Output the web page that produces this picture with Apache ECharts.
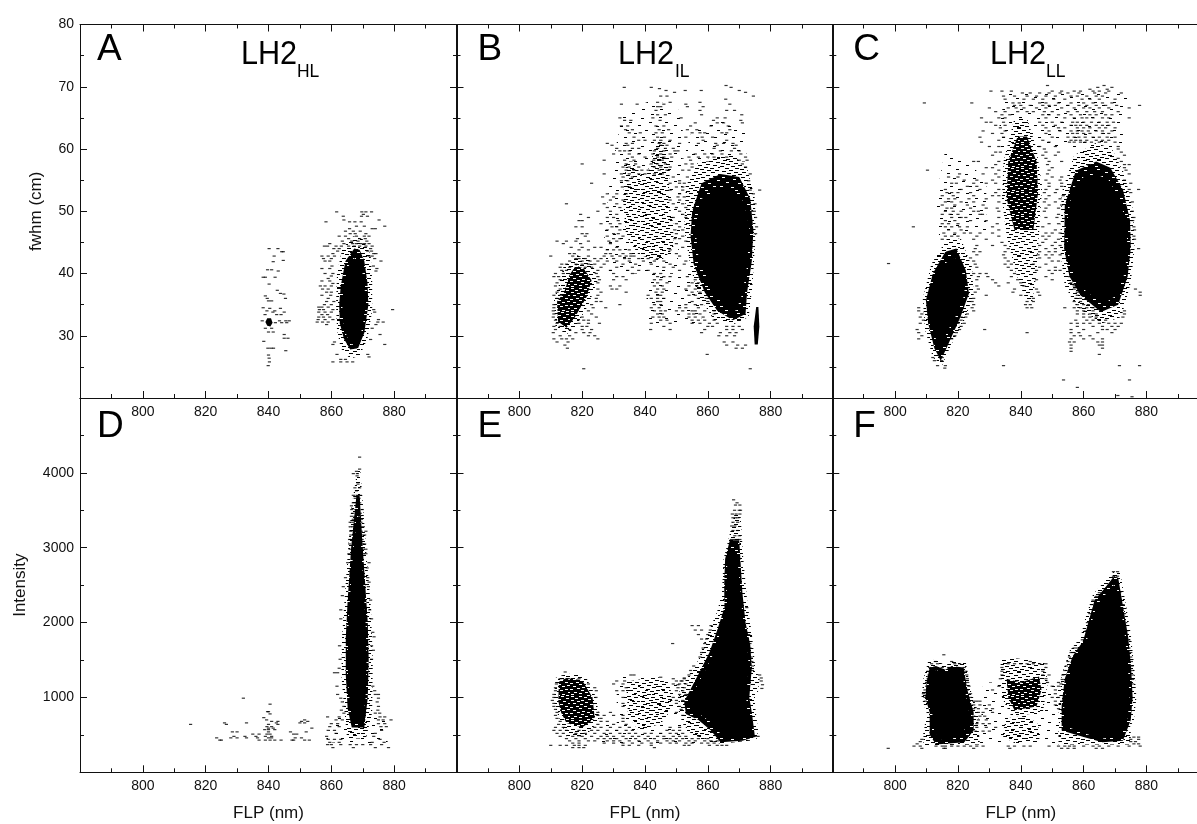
<!DOCTYPE html>
<html>
<head>
<meta charset="utf-8">
<title>LH2 scatter panels</title>
<script src="https://cdn.jsdelivr.net/npm/echarts@6/dist/echarts.min.js"></script>
<style>
html,body{margin:0;padding:0;background:#fff;overflow:hidden}
/* wider than the window: panel C runs off the right edge */
#chart{width:1225px;height:824px}
</style>
</head>
<body>
<div id="chart"></div>
<script>
const xTickLabels = [800, 820, 840, 860, 880];
const fwhmTickLabels = [30, 40, 50, 60, 70, 80];
const intensityTickLabels = [1000, 2000, 3000, 4000];

// solid black areas, [nm, value] outlines
const coreA = [[867.3,42.5],[865.2,41],[864,38],[863.5,35],[863.8,32],[865,29.8],[866.5,28.6],[868.5,29],[870,31.5],[870.8,35],[870.6,38],[869.6,41]];
const spotA = [[839,32.2],[839.6,31.6],[840.6,31.5],[841.3,32.1],[840.8,32.8],[839.6,32.8]];
const coreB = [[863.7,53.5],[858,52],[856,47.5],[857,42.7],[860.8,37.9],[865,35],[869,34],[871,36.8],[872.6,41.6],[873.2,47.5],[871.5,51.5],[868,53.5]];
const spikeB = [[875.4,34.6],[874.6,31.5],[874.9,28.6],[875.9,28.6],[876.4,31.5],[876.1,34.6]];
const coreC = [[860,55.5],[856.4,53.5],[855,49],[855,44],[856.5,40.5],[860,37.5],[866,35],[870.5,36.5],[873,40],[874,44],[873.5,48],[871.5,52],[868,55],[864,56]];
const blobC = [[815.9,41.6],[812.6,39.5],[810.8,35.7],[811.6,32.5],[813.3,28.8],[814.9,27.8],[816.3,30.4],[819.8,33.6],[822.2,36.8],[821.4,40],[819.1,42.7]];
const coreD = [[868,3350],[866.9,2900],[865.9,2300],[865.3,1800],[865.3,1300],[865.9,900],[867,680],[870,680],[870.9,1000],[871.2,1500],[870.9,2000],[870.2,2500],[869.5,3000],[868.8,3350]];
const coreE = [[867.3,2900],[866.2,2800],[866,2500],[866.2,2200],[864.2,1900],[862,1600],[859,1350],[856.5,1150],[854,950],[855,800],[858,760],[862,640],[865,450],[870,470],[873.5,520],[872.6,800],[872.2,1000],[873,1400],[872.6,1700],[871.2,2000],[870.4,2400],[869.3,2900]];
const coreF = [[869.5,2500],[867,2380],[864.2,2230],[862.2,1950],[860.7,1700],[857.2,1500],[854.8,1200],[853.8,900],[854.2,620],[860,520],[866,450],[871.5,480],[874,700],[874.6,1000],[874.1,1400],[873.2,1800],[871.8,2200],[870.4,2480]];
const blobF = [[811.8,1340],[813,1370],[816,1320],[818,1360],[821.3,1340],[822.2,1100],[823.6,800],[823.2,620],[820,480],[815.5,400],[812.5,520],[811.8,800],[810.4,1000],[810.8,1200]];

// almost solid areas with small white flecks
const denseA = [[867.3,44],[864.5,42],[863,38],[862.5,35],[862.7,32],[864,29.5],[866,27.8],[868.5,28],[870.5,30.5],[871.8,35],[871.5,38.5],[870.5,42],[869,43.8]];
const denseB = [[864,56],[858,54.5],[855,50],[854.5,46],[855.5,41.5],[859,37],[863,34],[868,32.5],[872,33.5],[872.5,37],[874,42],[874.5,47],[873.5,52],[870,55.5]];
const denseC = [[864,58],[857.5,56.5],[854,51],[853.8,44],[855.5,39.5],[859,36.5],[865.5,33.8],[871,35],[874,39.5],[875,44],[874.8,48.5],[872.5,53.5],[868.5,57]];
const denseC2 = [[816,43.5],[812,40],[809.8,35.7],[810.5,32],[812.5,28],[814.5,26],[816.8,28.5],[820.8,33],[823.5,36.8],[822.5,40.5],[819.5,44]];
const denseD = [[868,3700],[866.3,3000],[865.2,2300],[864.6,1800],[864.6,1300],[865.2,850],[866.5,600],[870.5,600],[871.6,1000],[871.9,1500],[871.6,2000],[870.8,2500],[870,3000],[869,3700]];
const denseE = [[867,3100],[865.5,2850],[865.2,2500],[865.3,2200],[863,1900],[860.5,1600],[857.5,1350],[855,1150],[852.5,950],[853,780],[857,700],[861,560],[864,400],[871,420],[875,470],[874,800],[873.2,1000],[874,1400],[873.5,1700],[872,2000],[871,2400],[870,3100]];
const denseF = [[869.7,2620],[866.5,2450],[863.5,2300],[861.5,2000],[859.8,1750],[856.5,1550],[854,1250],[853,900],[853,560],[860,470],[866,400],[872.5,420],[875,700],[875.6,1000],[875.1,1400],[874.2,1800],[872.6,2200],[871,2600]];
const denseF2 = [[811,1400],[813,1420],[816,1370],[818,1420],[821.8,1400],[823,1100],[825,800],[825,560],[822,400],[813,370],[811,500],[811,800],[809.6,1000],[810,1200]];

// dark but clearly flecked areas
const blobB = [[812,35.5],[812.3,32.3],[815,31.3],[817.5,32.8],[821.5,36.3],[823,38.9],[820.5,40.8],[818,41.3],[816,39.8],[814.3,37]];
const heavyC = [[839,62],[836,58],[835.5,52],[838,47],[844,47],[845.5,53],[845,58],[842,62]];
const blobE = [[812.6,1210],[815,1260],[820,1230],[823.3,1000],[824,720],[820,600],[815,660],[813.3,800],[812.4,950]];
const upperF = [[835.5,1250],[840,1200],[845.8,1280],[846.6,1100],[845,880],[838,830],[836,1000]];

// speckled areas, about a quarter of the ink
const midA = [[867,46],[863.5,44],[861.8,40],[861.5,35],[861.8,31],[863,28],[866,26.3],[869,26.8],[871.5,29.5],[873,34],[873,39],[872.5,43],[870,45.5]];
const midB = [[864,59],[857,58],[853,54],[852.5,47],[854.5,41],[857,36.5],[862,32.5],[868,31.8],[873,33],[874.2,38],[875.2,46],[875,52],[872.5,57],[868,59]];
const midB2 = [[834,58],[833,52],[834,46],[838,43],[845,42],[849,44],[849,48],[847.5,52],[848,58],[845,62],[843,60],[840,55],[836,58]];
const midB3 = [[811,36],[811.5,31.5],[815,30.2],[818,31.5],[822,35],[825,39],[823,42],[818,43],[814,41],[812.5,38]];
const midC = [[864,61],[857,59],[853,53],[852.5,44],[854,38],[858,34.5],[866,32],[872,33],[875,38.5],[876.2,44],[875.8,50],[873,56],[869,60]];
const midC2 = [[838,65],[834.5,58],[834,52],[835.5,46],[838.5,40],[841,36.5],[843.5,35],[845,40],[846,48],[846.8,54],[845,60],[842,65]];
const midC3 = [[817,46],[811.5,41.5],[808.8,36],[809.5,31],[812,26.5],[815,25.3],[817.8,28.5],[822,32.5],[825,36.5],[824.5,41],[821,45.5]];
const midD = [[868.3,4050],[866.3,3500],[865.2,2900],[864.2,2300],[863.4,1800],[863.2,1300],[864,900],[865,450],[871,450],[873,800],[873.2,1500],[872.6,2200],[871.2,2900],[870.2,3500],[869.2,4050]];
const midE = [[868.5,3450],[866.5,3100],[865,2850],[864.5,2400],[863,2150],[859,1750],[857,1500],[851,1100],[850.5,850],[852,650],[855,500],[864,380],[875.5,430],[876,560],[875,900],[875,1450],[874,1850],[872.5,2300],[871.2,2900],[870.4,3450]];
const midE2 = [[834,1210],[844,1280],[848,1150],[849,870],[845,650],[838,560],[834.6,760]];
const midE3 = [[811.5,1260],[815,1320],[821,1290],[824.5,1000],[825.5,700],[821,480],[815,480],[812,800],[811,950]];
const sideE = [[873.4,1000],[876,1080],[876.6,1290],[874.2,1360],[873,1200]];
const midF = [[852,560],[852,370],[875,370],[875,550]];
const midF2 = [[809,360],[809,560],[826.5,600],[827,370]];
const midF3 = [[870,2700],[866,2520],[863,2380],[860.5,2050],[859,1800],[855.5,1620],[853,1300],[852,900],[852.2,540],[860,450],[872,400],[876,700],[876.8,1000],[876,1450],[875,1850],[873.4,2250],[871.6,2680]];
const midF4 = [[810.5,1480],[813,1510],[816,1420],[818.5,1510],[822.5,1470],[824,1100],[826.5,800],[826.5,500],[809,500],[810,800],[808.4,1000],[809,1250]];
const midF5 = [[833.5,1520],[839,1520],[847.5,1470],[848.6,1200],[847,800],[837,750],[834,1000]];
const lowerF = [[835.2,720],[842,760],[845.6,640],[846,400],[838,390],[834.2,480]];

// thin scatter
const thinB = [[833,66],[829,56],[827,46],[828,40],[850,40],[852,50],[852,66],[843,68]];
const thinB2 = [[855,63],[852,58],[872,58],[873,63],[864,65]];
const thinB3 = [[841,40],[840,32],[858,32],[857,40]];
const thinC = [[835,69],[832,60],[872,60],[874,69]];
const thinC2 = [[816,60],[813,52],[814,46],[822,46],[829,47],[829,54],[824,58]];
const thinD = [[861,740],[858,400],[878,380],[877,750]];
const thinE = [[826,650],[826,360],[862,370],[860,800],[850,660]];
const thinE2 = [[831,1300],[831,600],[852,800],[852,1200]];
const thinF = [[828,1200],[827,360],[853,360],[853,1200],[848,1200],[846,800],[836,800],[834,1200]];

// single dashes, [value, [nm, nm, ...]] per row
const dashesA = [
[49.9,[861.7,869.7,871,872.8]],[49.5,[870.2]],[49.2,[863.8,869.6,871.5]],[48.6,[864,875.2]],[48.3,[858.3,865.8,867.5,869.5]],[47.6,[868,870.5,877]],[47.2,[865.8,873,874]],[46.8,[864.5,867,869.2]],[46.4,[866,867.6,871]],[46,[862.5,864.5,868,870.5,872]],[45.6,[865.5,869,870.8]],[45.2,[863.5,866.5,868.5,871.3]],
[44.8,[859.5,864,866.8,868,869.5,870.6,872]],[44.4,[857.8,858.8,861.5,863.2,865.5,867.3,869,871,873]],[44,[860.8,862.5,872.5]],[43.6,[862,871.6,872.8]],[43.2,[860.5,873.5,874.2]],[42.8,[857,859,861,872,873]],
[42.4,[857.5,860,873.8]],[42,[858,859.5,875.8]],[41.2,[860.2,873.4]],[40.8,[857,859.5,874.5]],[40.4,[874.2]],[40,[858,860.5]],[39.6,[860]],[39.2,[859]],[38.8,[857,859.5]],[38.4,[860.5]],
[38,[856.5,858,860]],[37.5,[857.2,859]],[37,[858.5,860]],[36.5,[857,859.8]],[36,[859]],[35.5,[858.5,860.8]],[35,[857.8,860]],[34.6,[856,857,859]],[34.2,[856.2,857.5,860.5,873.5,879.5]],[33.8,[856,858,860,873.8]],[33.4,[857,858.8]],
[33,[856,857.5,859.5]],[32.6,[855.8,858,860.5,875]],[32.2,[855.5,857.2,859,874.8,876.5]],[31.8,[858.5,874.2]],[31.2,[873]],[30.2,[875.5]],[29.4,[872.5]],[29,[861]],
[28.6,[860.5,877]],[27,[861.8,871.6]],[26.6,[872]],[26.2,[863,864.5]],[25.8,[860.5,863,865,866.8]],
[44,[840.2,843]],[43.5,[844.2,844.7]],[42.8,[841.8]],[42.1,[844.7]],[41.9,[841.5]],[40.6,[839.7,841]],[40.4,[843.1]],[39.4,[838.3,839,842.1]],[38.3,[840.2]],[37.3,[842.8]],[36.8,[843.8]],[36.7,[844.9]],[36.4,[839]],[36,[845.4,839.6]],[35.6,[840,841]],[34.5,[838.3]],[34.4,[840.4,843.8]],[34,[842,839.5]],[33.8,[841.4,845]],[33.4,[842.6,838.9,844]],[32.4,[838,843.5,845.5,846.6]],[32.1,[842.2,844.2,845.8]],[31.2,[839,841]],[30.6,[840,841.5]],[30.2,[845]],[29.6,[845,846.2]],[29.1,[838.5]],[28,[839.8,840.8,841.6]],[27.6,[845.5]],[26.9,[840]],[26.4,[840.2]],[25.8,[840.3]],[25.2,[839.9]]
];
const dashesB = [
[70.2,[865.8]],[69.9,[833.4,842,867.4]],[69.7,[844.6]],[69.4,[857.9,846.7,870,852.8]],[69.1,[849.4,872]],[68.5,[847,874.5,845]],[68,[865.7]],[67.5,[844,848,857.5]],[67.2,[832.5,837.5,846,853,867]],[66.8,[844,845,858.5,853.5]],[66.2,[843.5,866,857.5,868.5]],[65.5,[844,846.5,858,870.8]],[65,[832,842.5,851.5,863,865.5]],[64.6,[833.5,835.5,844.8,861.8,870.5]],[64.2,[856,863,865,871]],
[63.7,[832.5,834.5,843.5,846,854.5,861,866.5]],[63.1,[833.8,836,844.5,847.5,853.5,856.5,867]],[62.6,[835,838.5,843.5,845.5,855,857.5,859,864.5,866]],[61.9,[836.5,844,846.2,853,858.2,861.5]],[61.4,[838,840,843,845,848,858.5,866]],[60.9,[828,834,836,844.5,846,851,857,862.5,865,868]],[60.6,[829.5,834.5,845,847,863,869]],[60.1,[831,836,838,844,846.5,849,862,868.5]],
[59.7,[832,833.5,835,843,846,849.5,850.5,864,867.5,870]],[59.2,[830,835,838,842.5,845,848,856,859,861.5,864.5,870.5]],[58.7,[836,840,844,846,848.5,854,857,860,862,866,872]],[58.2,[827,833.5,836.5,842.8,845.5,854.5,870,872.5]],[57.6,[820,834,837,842,844,846.5,853,855,871]],[57.1,[833,835,838,843,845,848,855,872]],
[56.6,[834,836.5,839,841,844.5,847,852,854]],[56,[827,832.5,835,838,840,843,845.5,873.5]],[55.5,[833,836,849,853.5]],[54.9,[832.5,834.5,851,873]],[54.5,[823,848,851,852.5]],
[53.9,[832.8,835,850,852]],[53.4,[848,852,873.5,876.5]],[52.8,[828,831,834,851,874.5]],[52.3,[826.5,830,850.5,852.5]],[51.8,[829,833,848,851]],[51.2,[815,827,831,849,852,875]],[50.6,[828,832,850,853]],
[50,[825,829,851,874.8,874]],[49.5,[819.5,831,852]],[49,[822,828,830,849,853,875.2]],[48.5,[819,820,831.5]],[48,[826,829,832,850]],[47.5,[818,820,829.5,831,851,875.5]],[47,[828,832,849.5,852]],
[46.4,[820,821.5,830,831.5,850,875.2]],[46,[821,828,833,852]],[45.6,[818.5,830,832,849.5,851]],[45.2,[812,815,818,822,828.5,831,853]],[44.8,[814,819.5,829,850]],[44.2,[816.5,820,824,826,831,852]],
[43.8,[819,822,828,830,832,835,848]],[43.2,[816,817.5,827.5,829,833,835.5,850]],[42.8,[810,817,822,827,829.5,832,834,835.5,836.5,851]],[42.4,[818,819,821,824,826,830,833.5,835,838,841,844]],[42,[816,820,822.5,825,828,831,835,839.5,843,846,853]],[41.5,[813.5,815,818,820,822,824,827,833,837,842,848,852.5]],
[41,[813,816,821,823,826,831,836,846,849]],[40.5,[813.5,815,825,829,834.5,838,841,851]],[40,[811.5,814,824.5,830,836,843,845]],[39.5,[811,812.5,825,831,833,844,846,848,853.5]],[39,[813,825.5,830,834,843,845,856]],[38.5,[812,825,844,847,855,857]],[38,[811.5,829,832,843,845.5,854,856.5]],[37.5,[813,825,829.5,831,844,846,853,856]],
[37,[812,826,834,843.5,845.5,855,857.5]],[36.5,[811,813,825,841,844,845,854,856]],[36,[812,824.5,842,844,846,857,859.5]],[35.5,[824.5,826,844,845,855,860]],[35,[811,823,832,843,845,853,856,858]],[34.5,[811,823.5,827.5,842,844.5,851,853,857]],[34,[810.8,822,843,845,846.5,850,852,855,856,859,862]],
[33.5,[811,823,844,845.5,854,855.5,857.5,862]],[33,[810.8,820,824.5,842.5,844.5,846,854,856,858.5]],[32.5,[811.5,820.5,822,845,847,855,857,859,862]],[32,[812,819,822,825.5,842,848,855,857.5,860.5,863]],[31.5,[811,813,820,821.5,846,860,861.5,866,868,870]],[31,[811.5,816,820,823,841.8,848,859,866,868,871]],[30.5,[810.8,818,820.5,822.5,858,864,867,869]],
[30,[813,816,822,824,863.5,866,868.5]],[29.5,[811,813.5,815,817,825]],[29,[812,815.5,865.2,868]],[28.5,[814.5,866,869.5,872]],[28,[815.3,869,871]],[27,[859.8]],[24.7,[820.5,873.5]]
];
const dashesC = [
[70.2,[848.5,866.5]],[69.9,[869,864.5]],[69.6,[867.5,862]],[69.3,[830.5,834,837,850,853,857,859,863,865,868]],[69,[840.5,843,846,849,852.5,855,858.5,863.5,867,872]],[68.5,[834.5,838,842,845,848,851,856,858,861,864,866]],[68,[835,841,844,847,850.5,854,859.5,862,865,870]],[67.4,[809.3,824.4,837.5,839.5,846,848,852,856,860,863,866,869]],[67,[838,840,843,847,849,851,855,858.5,861,864,867,870.5,877.8]],
[66.6,[830,836,838.5,841,845,848,853,857,860,862,865,868,874.5]],[66,[832,835,839,842,844,847.5,850,855,858,861,863.5,866,871]],[65.5,[834,836.5,847,849,852,856,859,862,864,867,869]],[65,[827.5,833,835,848,854,857,859.5,861,863,866,868,874.5]],[64.3,[829,830.5,834.5,846,850,853,856.5,858,860,862.5,865,867.5,869.5]],[63.8,[832,835,847,851,856,857.5,859,861,864,866,868]],
[63.4,[833.5,848,852,854,858,860,862,865,867,870]],[62.9,[828,835,849,852.5,856,858,859.5,861.5,864,866,869]],[62.5,[831,834,848,856.5,858,860,862,866,868]],[61.9,[827,834.5,850,855,857,858.5,860.5,863,865,867.5,870]],[61.4,[833,847,856,857.5,859,861,864,866,868]],[61.1,[827.5,849,855.5,857,859,860.5,862.5,865,867,870]],
[60.4,[830,833,846,851,871]],[60,[847.5,871]],[59.5,[832,833.5,848,852,872]],[59,[831,847,851,873]],[58.5,[848,871]],[58,[825,826.5,833,849,853,872]],[57.5,[832,848.5,873,874.5]],[57,[829,831,850,873]],
[56.6,[810.3,833,849,873.5]],[56,[820.5,828,832,848.5,874.5]],[55.5,[817,820,833,850,853]],[55,[822,826,831,848,852.5,873]],[54.5,[818,819.5,825,829,832,849,853,875]],[54,[823,826,849,853]],[53.5,[816,821,827,833,848,851.5,874.5,877.5]],[53,[816.5,818,820,824,832,847.5,851,875]],
[52.5,[815,818.5,825,831,833,849,853.5]],[52,[817,819,823.5,829,848,852.5]],[51.5,[816,818,821,825,833,847.5,851,875.5]],[51,[815,819,823,828,849,853]],[50.5,[816.5,818,824,829,832.5,848,852]],[50,[816,818.5,821,825,826.5,833,847.5,875.5]],[49.5,[815,817.5,820,827,827.8,852]],[49,[818,821,822.5,833,848,851.5,876]],[48.5,[816,819,824,829,875.6]],[48,[815,817,820,832.5,849,852]],
[47.5,[805.8,816,818,820.5,823,831,847,876]],[47,[817,821,833,851,876.2]],[46.5,[815.5,819,822,824,827,831,848,850,852.5]],[46,[816,818,820,826,833,847,849,876]],[45.5,[815,825,829,848,852,876.2]],[45,[834,847,851]],[44.5,[826,831,835,846,850,852.5]],[44,[825.5,836,848,851,877.5]],
[43.5,[825,827,835,846,849,851]],[43,[826,834.5,845.5,848,850,852.5]],[42.5,[824,835,846,849]],[42,[825,836,850,852]],[41.5,[825.5,835,837,844,848]],[41,[826,836,846,851]],[40.5,[837,845,849,851,852.5]],[40,[825,827,829,838,850]],
[39.5,[826.5,829.5,837,848,855.5]],[39,[826,831,839,845,850]],[38.5,[832,836,840,856]],[38,[826,833,841,857]],[37.5,[826.5,838,845,857,876.5]],[37,[825.5,837.5,845.5,858,878]],[36.5,[829,840,846,858,878]],[36,[825,844,857.5,859]],
[35.5,[824.5,842,844,857,859]],[35,[825,841.5,843,858,860,861.5]],[34.5,[807.5,824.5,842,843.5,854,857,859,861,863]],[34,[807.5,825,858,860,863,873]],[33.5,[808.5,823,858,860,862,864,873]],[33,[808,821,822.5,860,862,864,872.5]],[32.5,[809,821,857.5,861,863,865,867]],[32,[808,820,822,856,858,860,862,865,868,870,872]],[31.5,[819,821,858,863,866,869,871]],
[31,[807,820.5,828.5,856,860,866,867.5,870]],[30.5,[807.5,819.5,842,856,858.5,864.5,869]],[30,[808.5,819,857,859,862]],[29.5,[807.5,818,856,860,863,866]],[29,[855.5,857,864.5,866]],[28.5,[856,865,866]],[28,[856,866]],[27.5,[856]],[27,[865]],[26.5,[812,815]],[26,[812.5,814.8]],[25.2,[813.5,816,834.5,871.4,877.8]],[24.8,[815.8]],[22.9,[853.6,874.6]],[21.7,[858]],[20.4,[870.9]],[20.2,[875.4]],[41.6,[797.9]]
];
const dashesD = [
[4210,[869]],[4050,[869]],[4020,[868]],[3990,[867,868.3]],[3960,[868.2]],[3850,[868.5]],[3800,[867.5,869]],[3760,[868]],[3700,[867,868.2,869.2]],[3660,[867.6,868.8]],[3600,[867,868,869]],[3560,[866.4,868.5]],[3510,[866.5,867.8,869.8]],[3460,[866.8,868,869.2]],[3420,[866.4,867.5,869]],[3380,[867,868.2,869.6]],[3340,[866,867,869.4]],[3280,[866,866.8,869.2,870.2]],[3220,[866.2,869.5,871]],[3170,[866.2,869.6,870.6]],[3110,[865.8,866.4,869.8]],[3050,[865.8,870,870.6]],[2980,[866,870.2,871]],[2920,[865.6,870.3,871]],[2800,[865.2,872]],[2730,[871.4]],
[2600,[864.5,871.6]],[2540,[872]],[2480,[863.8,871.8]],[2360,[863.5]],[2300,[872.5]],[2170,[863,872.2]],[2050,[863,872.8]],[1870,[873.2]],[1810,[873.6]],[1690,[862.6,872.8]],[1630,[873.4]],
[1510,[862.8,872.8]],[1390,[862.5]],[1330,[861,862]],[1150,[861.8,873.2]],[1090,[873.8]],[1040,[862,874,875]],[990,[863,875]],[940,[863.5,874.6]],[880,[864,875]],[830,[863.2,874.8]],[790,[864,874,875.4]],[740,[858.8,862.5,875.5,877]],[700,[861.5,863.5,875,876.5,879]],[650,[860,862,875,877]],[610,[859.5,862.5,875.8,877.5]],[560,[859,861,876]],[520,[861.5,874]],[480,[858.5,873.5]],[440,[859,861,863,875.5]],[400,[859.5,862.5,873,876.8]],[370,[858.8,860,863,866,868,870,872.5,876]],[330,[860.5,867,874,878.2]],
[990,[832]],[910,[840.5]],[810,[839.7,840]],[780,[840.5]],[730,[838.5]],[700,[839.4,851.5]],[680,[841,843,850.5,852.5]],[660,[826,833,842.5,850,851.5]],[640,[815.2,826.6,840,843]],[610,[839.5,841]],[590,[840,841.5,853.8]],[570,[838.8,840,842]],[540,[828.5,830,840,847,852]],[510,[835,837,839.5,840.5,848,849]],[480,[829,832.5,836,839,841]],[460,[823.5,828,830,833,836.5,840,841,848.5,850.5]],[430,[824.5,825,837,839,840.5,842,844,847.5,848,851.5,853]]
];
const dashesE = [
[3640,[868.2]],[3600,[869.3]],[3570,[870.2,868.8]],[3500,[868.5,870,870.4]],[3450,[867.8,869,870.2]],[3400,[868,868.8,869.6]],[3340,[868,869.5]],[3290,[867.6,868.6]],[3230,[868,869.4]],[3160,[868.6,870]],[3110,[867.5,868.5,869.4,870.2]],[2200,[872.4]],
[1960,[855,857,861]],[1900,[856,858,860.8]],[1840,[857,860,873]],[1780,[858,859.6]],[1720,[848.8,859,873.4]],[1660,[858.5,873.4]],[1600,[858,873.6]],[1540,[857.5,873.8]],[1480,[874]],[1420,[855.5,874.2]],[1360,[854.5,874.2]],[1300,[854,876.5]],[1260,[852.5,877]],[1220,[851.5,877]],[1170,[850.5,877.4]],[1120,[877.2]],
[1340,[814.6]],[1300,[835.5,836.5]],[1270,[845]],[1250,[813,815.5,819,849,852.5]],[1220,[831,833.5,850,851.8]],[1180,[811.8,822,830,833,849,851,853]],[1130,[811.5,824,834,850.5,852.5]],[1090,[811.5,824.5,831,833,850,852]],[1040,[811,851,853]],[1000,[811,824.4,833,849,851]],[960,[810.5,850,852]],[920,[811,833,850,853]],
[880,[811,833,851,853.5]],[840,[811.5,851.5]],[800,[812,825,829,850]],[760,[811.5,825,827,830,833,852]],[720,[812,826,833]],[680,[813,826,828,833]],[640,[812.5,825,830,834]],[600,[811.5,814,824,826,829,832,835,848,851]],
[560,[811,813,815,819,823,825,828,831,834,836,847,849,851]],[520,[812,814,818,821,824,827,829,832,835,837,840,842,845,848,850,852]],[480,[813,817,820,823,826,828,830,833,836,838,841,844,846,849,851,853,875,876]],[450,[815,818,821,825,827,829,831,834,837,840,843,846,848,850,852,855,857,860]],[420,[816,819,822,824,828,830,832,835,838,841,844,847,849,851,854,856,859,861,863]],[390,[817,819,827,830,833,836,839,842,845,848,850,853,855,858,860,862]],[360,[810,813,815,817.5,819,821,833,835,838,842,852.5,854,860.5,863,864.5,866]],[330,[817,819,820.5,843]]
];
const dashesF = [
[2680,[869.5,870.8]],[2620,[869.5,870.8]],[2400,[865,871.5]],[2350,[864,871.6]],[2300,[863,871.8]],[2240,[862.6,872.6]],[2120,[862,873]],[2000,[861.2,873.4]],[1890,[860.8,873.8]],[1770,[859.6,874.4]],[1660,[857,858,874.4]],[1600,[856,857,875]],[1540,[855.5,875]],[1480,[855,875.2]],[1420,[854.5,875.4]],[1360,[854,875.6]],[1300,[853.4,875.6]],[1240,[853.2,875.6]],[1180,[852.8,875.6]],
[1570,[815.5]],[1480,[812.8,818,843]],[1450,[811.6,813.5,819,820.5,836,838,840,842,844,846,848]],[1400,[811,815,817,822,834,848]],[1350,[810.5,822.5,834,847]],[1300,[810.8,822.8,834,847,849]],[1250,[810.5,823,833.5,848]],[1200,[810,823,848.5,852]],[1150,[810,823.5,833,850,852]],[1100,[809.5,823,831,851]],[1050,[809,824,851]],[1000,[809.5,824,850,852]],
[950,[809.6,825,826,827,851,853]],[900,[825,827,830,851]],[850,[825,826.5,829,831,852]],[800,[826.5,828,831]],[750,[825,827,828.5]],[700,[826.5,829]],[650,[826,828,830]],[600,[826,829,832]],[550,[825.5,828,830]],
[470,[876,877.5]],[440,[808.5,875,877.5]],[410,[808,875,876.5]],[380,[807,876,877.5]],[350,[806,808,813,815,816,818,820,822,824,826,828,836,838,841,843,849,852,854,855.5,857,860,863,865,868,871,874.5,878]],[320,[797.8,808.5,815.5,816,825,836.5,853,855,857,864,866]]
];

let panels = [
    { letter: 'A', sub: 'HL', left: 80, top: 24.5, height: 373.5, yMax: 80, yStep: 10, yLabels: fwhmTickLabels, yName: 'fwhm (cm)', xName: '', dashes: dashesA, thin: [], mid: [midA], heavy: [], dense: [denseA], core: [coreA, spotA] },
    { letter: 'B', sub: 'IL', left: 456.5, top: 24.5, height: 373.5, yMax: 80, yStep: 10, yLabels: [], yName: '', xName: '', dashes: dashesB, thin: [thinB, thinB2, thinB3], mid: [midB, midB2, midB3], heavy: [blobB], dense: [denseB], core: [coreB, spikeB] },
    { letter: 'C', sub: 'LL', left: 832.3, top: 24.5, height: 373.5, yMax: 80, yStep: 10, yLabels: [], yName: '', xName: '', dashes: dashesC, thin: [thinC, thinC2], mid: [midC, midC2, midC3], heavy: [heavyC], dense: [denseC, denseC2], core: [coreC, blobC] },
    { letter: 'D', left: 80, top: 398, height: 374.3, yMax: 5000, yStep: 1000, yLabels: intensityTickLabels, yName: 'Intensity', xName: 'FLP (nm)', dashes: dashesD, thin: [thinD], mid: [midD], heavy: [], dense: [denseD], core: [coreD] },
    { letter: 'E', left: 456.5, top: 398, height: 374.3, yMax: 5000, yStep: 1000, yLabels: [], yName: '', xName: 'FPL (nm)', dashes: dashesE, thin: [thinE, thinE2], mid: [midE, midE2, midE3, sideE], heavy: [blobE], dense: [denseE], core: [coreE] },
    { letter: 'F', left: 832.3, top: 398, height: 374.3, yMax: 5000, yStep: 1000, yLabels: [], yName: '', xName: 'FLP (nm)', dashes: dashesF, thin: [thinF], mid: [midF, midF2, midF3, midF4, midF5, lowerF], heavy: [upperF], dense: [denseF, denseF2], core: [coreF, blobF] }
];

const fontName = '"Liberation Sans", Arial, sans-serif';
const inkColor = '#111';
const panelWidth = 377;

// small repeating fill, dashes the same shape as the plotted ones
function speckle(w, h, back, fore, dw, flecks) {
    let c = document.createElement('canvas');
    c.width = w;
    c.height = h;
    let ctx = c.getContext('2d');
    if (back) {
        ctx.fillStyle = back;
        ctx.fillRect(0, 0, w, h);
    }
    ctx.fillStyle = fore;
    flecks.forEach(f => ctx.fillRect(f[0], f[1], dw, 1));
    return { image: c, repeat: 'repeat' };
}
const denseFill = speckle(30, 24, '#000', '#fff', 3, [[4,2],[17,1],[25,4],[10,6],[2,9],[20,8],[13,11],[27,12],[6,14],[18,15],[0,18],[11,19],[23,18],[15,22],[5,22]]);
const heavyFill = speckle(30, 24, '#000', '#fff', 3, [[1,0],[9,0],[21,0],[14,1],[26,2],[5,2],[18,3],[11,4],[1,4],[23,5],[7,5],[15,6],[28,7],[3,7],[20,8],[10,8],[25,10],[6,10],[14,10],[0,11],[18,12],[9,12],[27,13],[22,14],[3,14],[12,15],[7,16],[17,16],[25,17],[0,17],[20,18],[11,18],[4,20],[15,20],[28,20],[9,21],[22,22],[1,22],[17,23],[26,23]]);
const midFill = speckle(40, 32, null, '#000', 4, [[3,0],[17,0],[29,1],[9,1],[36,2],[22,2],[1,3],[14,3],[6,4],[26,4],[33,5],[18,5],[11,6],[0,6],[24,7],[38,7],[5,8],[15,8],[30,8],[20,9],[9,10],[35,10],[27,10],[2,11],[14,12],[22,12],[31,12],[7,13],[18,14],[38,14],[0,15],[12,15],[26,15],[33,16],[6,17],[21,17],[16,18],[29,18],[37,19],[10,19],[2,20],[24,20],[14,21],[32,22],[7,22],[19,23],[38,23],[0,24],[27,24],[11,25],[34,25],[22,26],[5,26],[15,27],[30,28],[9,28],[1,29],[37,29],[20,29],[25,30],[13,30],[6,31],[33,31],[17,31],[28,27],[3,23]]);
const thinFill = speckle(36, 28, null, '#000', 3, [[3,2],[20,1],[11,5],[29,6],[1,10],[17,10],[26,13],[8,14],[33,18],[14,18],[22,21],[4,22],[30,25],[12,25]]);

function polygonSeries(points, xIndex, yIndex, fill, z) {
    return {
        type: 'custom',
        xAxisIndex: xIndex,
        yAxisIndex: yIndex,
        silent: true,
        z: z,
        data: [[points[0][0], points[0][1]]],
        renderItem: function (params, api) {
            return {
                type: 'polygon',
                shape: { points: points.map(p => api.coord(p)) },
                style: { fill: fill }
            };
        }
    };
}

function makeAxis(position, index, opt) {
    let isX = position == 'bottom' || position == 'top';
    let labels = opt.labels || [];
    return {
        type: 'value',
        gridIndex: index,
        position: position,
        min: isX ? 780 : (opt.yMax == 80 ? 20 : 0),
        max: isX ? 900 : opt.yMax,
        interval: isX ? 20 : opt.yStep,
        name: opt.name || '',
        nameLocation: 'middle',
        nameGap: opt.nameGap,
        nameTextStyle: { color: inkColor, fontFamily: fontName, fontSize: 17 },
        axisLine: { show: true, onZero: false, lineStyle: { color: inkColor, width: 1 } },
        axisTick: { show: opt.ticks !== false, inside: true, length: 7, lineStyle: { color: inkColor, width: 1 } },
        minorTick: { show: opt.ticks !== false, splitNumber: 2, length: 4, lineStyle: { color: inkColor, width: 1 } },
        splitLine: { show: false },
        minorSplitLine: { show: false },
        axisLabel: {
            show: labels.length > 0,
            color: inkColor,
            fontFamily: fontName,
            fontSize: 14,
            margin: isX ? 7 : 6,
            showMinLabel: true,
            showMaxLabel: true,
            hideOverlap: false,
            formatter: v => labels.includes(v) ? String(v) : ''
        }
    };
}

let grid = [], xAxis = [], yAxis = [], series = [], graphic = [];
panels.forEach((p, i) => {
    grid.push({ left: p.left, top: p.top, width: panelWidth, height: p.height, containLabel: false });
    // bottom axis first, the mirror axis on top only closes the frame
    xAxis.push(makeAxis('bottom', i, { labels: xTickLabels, name: p.xName, nameGap: 33 }));
    xAxis.push(makeAxis('top', i, { ticks: i < 3 }));
    yAxis.push(makeAxis('left', i, { labels: p.yLabels, yMax: p.yMax, yStep: p.yStep, name: p.yName, nameGap: p.yMax == 80 ? 35 : 51 }));
    yAxis.push(makeAxis('right', i, { yMax: p.yMax, yStep: p.yStep }));
    let xi = i * 2, yi = i * 2;
    p.thin.forEach(h => series.push(polygonSeries(h, xi, yi, thinFill, 2)));
    p.mid.forEach(h => series.push(polygonSeries(h, xi, yi, midFill, 2)));
    p.heavy.forEach(h => series.push(polygonSeries(h, xi, yi, heavyFill, 3)));
    p.dense.forEach(h => series.push(polygonSeries(h, xi, yi, denseFill, 3)));
    p.core.forEach(c => series.push(polygonSeries(c, xi, yi, '#000', 3)));
    let pts = [];
    p.dashes.forEach(row => row[1].forEach(x => pts.push([x, row[0]])));
    series.push({
        type: 'scatter',
        xAxisIndex: xi,
        yAxisIndex: yi,
        symbol: 'rect',
        symbolSize: [3.2, 1.2],
        itemStyle: { color: '#000' },
        silent: true,
        z: 4,
        data: pts
    });
    graphic.push({
        type: 'text', x: p.left + (i % 3 == 0 ? 17 : 21), y: i < 3 ? 50 : 427,
        style: { text: p.letter, fontFamily: fontName, fontSize: 37, fill: '#000', verticalAlign: 'middle' }
    });
    if (p.sub) {
        let tx = [241, 618, 990][i], sx = [297, 675, 1046][i];
        graphic.push({
            type: 'text', x: tx, y: 55, scaleX: 0.9,
            style: { text: 'LH2', fontFamily: fontName, fontSize: 34, fill: '#000', verticalAlign: 'middle' }
        });
        graphic.push({
            type: 'text', x: sx, y: 72, scaleX: 0.92,
            style: { text: p.sub, fontFamily: fontName, fontSize: 19, fill: '#000', verticalAlign: 'middle' }
        });
    }
});

let chart = echarts.init(document.getElementById('chart'), null, { renderer: 'canvas' });
chart.setOption({
    animation: false,
    backgroundColor: '#fff',
    grid: grid,
    xAxis: xAxis,
    yAxis: yAxis,
    series: series,
    graphic: graphic
});
</script>
</body>
</html>
